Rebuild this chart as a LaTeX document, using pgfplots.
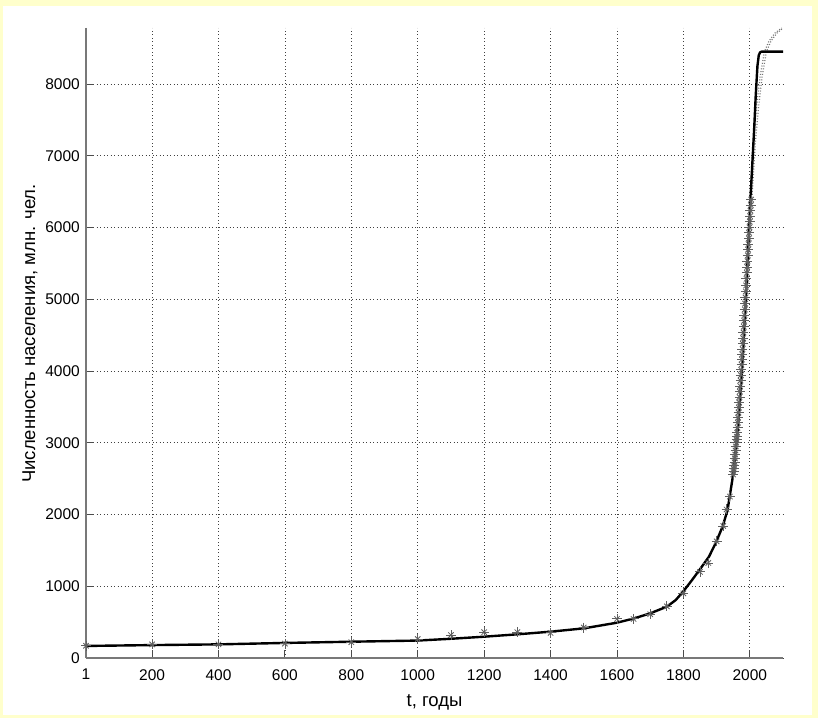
\documentclass[border=0pt]{standalone}
\usepackage{pgfplots}
\pgfplotsset{compat=1.18}
\usepackage{fontspec}
\setmainfont{Liberation Sans}
\definecolor{bgyellow}{RGB}{255,255,204}
\definecolor{axgray}{RGB}{120,120,120}
\definecolor{mkgray}{RGB}{95,95,95}
\begin{document}
\begin{tikzpicture}
\fill[bgyellow] (0,0) rectangle (818pt,718pt);
\fill[white] (3pt,3pt) rectangle (812pt,712pt);
\begin{axis}[
  scale only axis,
  width=697pt, height=630pt,
  at={(86pt,60pt)}, anchor=south west,
  xmin=1, xmax=2100, ymin=0, ymax=8780,
  axis x line*=bottom, axis y line*=left,
  axis line style={axgray, line width=1.1pt},
  xtick={1,200,400,600,800,1000,1200,1400,1600,1800,2000},
  ytick={0,1000,2000,3000,4000,5000,6000,7000,8000},
  tick align=inside,
  major tick length=8pt,
  tick style={black!70, line width=0.9pt},
  grid=major,
  grid style={black!75, line width=0.7pt, dash pattern=on 0.9pt off 2.6pt},
  /pgf/number format/assume math mode=true,
  /pgf/number format/1000 sep={},
  ticklabel style={font=\fontsize{15.5}{18}\selectfont, inner sep=0pt},
  xticklabel style={yshift=-11pt},
  yticklabel style={xshift=-6pt},
  xlabel={t, годы},
  ylabel={Численность населения, млн. чел.},
  label style={font=\fontsize{18.5}{22}\selectfont},
  xlabel style={at={(axis description cs:0.5,-0.0698)}, anchor=center},
  ylabel style={at={(axis description cs:-0.0803,0.515)}, anchor=center},
  clip=false,
]
% projection (dotted band)
\addplot[mkgray!85, line width=1.2pt, dash pattern=on 1pt off 1.8pt] coordinates {
 (1999,6300) (2011,7200) (2021,7700) (2031,8100) (2044,8450) (2058,8600) (2076,8710) (2096,8780)};
\addplot[mkgray!85, line width=1.2pt, dash pattern=on 1pt off 1.8pt] coordinates {
 (2005,6300) (2017,7200) (2027,7700) (2037,8100) (2050,8450) (2064,8600) (2082,8710) (2100,8780)};
% data markers
\addplot[mkgray, only marks, mark=+, mark size=5pt, line width=0.8pt] table {
x y
1 170
200 190
400 190
600 200
800 220
1000 265
1100 320
1200 360
1300 360
1400 350
1500 425
1600 545
1650 545
1700 610
1750 720
1800 900
1850 1200
1875 1325
1900 1625
1920 1840
1930 2070
1940 2250
1950 2557
1951 2594
1952 2636
1953 2682
1954 2730
1955 2782
1956 2835
1957 2891
1958 2948
1959 3001
1960 3043
1961 3084
1962 3140
1963 3210
1964 3281
1965 3350
1966 3421
1967 3490
1968 3562
1969 3637
1970 3713
1971 3790
1972 3867
1973 3942
1974 4017
1975 4089
1976 4160
1977 4232
1978 4304
1979 4379
1980 4457
1981 4536
1982 4617
1983 4699
1984 4778
1985 4858
1986 4939
1987 5024
1988 5108
1989 5192
1990 5284
1991 5367
1992 5450
1993 5531
1994 5611
1995 5691
1996 5769
1997 5847
1998 5925
1999 6003
2000 6080
2001 6157
2002 6234
2003 6311
2004 6389
};
\addplot[mkgray, only marks, mark=x, mark size=3.8pt, line width=0.8pt] table {
x y
1 170
200 190
400 190
600 200
800 220
1000 265
1100 320
1200 360
1300 360
1400 350
1500 425
1600 545
1650 545
1700 610
1750 720
1800 900
1850 1200
1875 1325
1900 1625
1920 1840
1930 2070
1940 2250
1950 2557
1951 2594
1952 2636
1953 2682
1954 2730
1955 2782
1956 2835
1957 2891
1958 2948
1959 3001
1960 3043
1961 3084
1962 3140
1963 3210
1964 3281
1965 3350
1966 3421
1967 3490
1968 3562
1969 3637
1970 3713
1971 3790
1972 3867
1973 3942
1974 4017
1975 4089
1976 4160
1977 4232
1978 4304
1979 4379
1980 4457
1981 4536
1982 4617
1983 4699
1984 4778
1985 4858
1986 4939
1987 5024
1988 5108
1989 5192
1990 5284
1991 5367
1992 5450
1993 5531
1994 5611
1995 5691
1996 5769
1997 5847
1998 5925
1999 6003
2000 6080
2001 6157
2002 6234
2003 6311
2004 6389
};
% model curve
\addplot[black, line width=2.4pt, line join=round] coordinates {
 (1,168) (200,180) (400,190) (600,210) (800,227) (1000,243) (1100,268)
 (1200,297) (1300,330) (1400,367) (1500,413) (1600,492) (1650,550)
 (1700,622) (1750,715) (1777,808) (1800,930) (1825,1080) (1852,1250)
 (1877,1412) (1897,1599) (1918,1830) (1933,2063) (1950,2560) (1960,3000)
 (1966,3317) (1976,3990) (1988,5003) (1998,5997) (2005,6662) (2013,7360)
 (2018,7850) (2023,8250) (2027,8400) (2031,8440) (2035,8450) (2100,8450)};
\end{axis}
\pgfresetboundingbox
\path[use as bounding box] (0,0) rectangle (818pt,718pt);
\end{tikzpicture}
\end{document}
